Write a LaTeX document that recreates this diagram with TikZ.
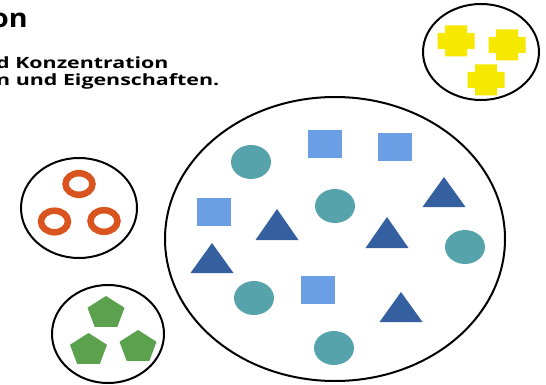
\documentclass[tikz,border=0pt]{standalone}
\usepackage{fontspec}
\usepackage{graphicx}
\setmainfont{Open Sans}
\definecolor{tealc}{RGB}{86,163,171}
\definecolor{lblue}{RGB}{107,159,229}
\definecolor{dblue}{RGB}{53,96,159}
\definecolor{orng}{RGB}{217,84,30}
\definecolor{grn}{RGB}{91,161,78}
\definecolor{yel}{RGB}{247,232,0}
\begin{document}
\begin{tikzpicture}[x=1pt,y=-1pt,
  outline/.style={draw=black,line width=2pt,fill=white},
  blob/.style={fill=tealc},
  sqbox/.style={fill=lblue},
  tri/.style={fill=dblue},
  ring/.style={draw=orng,line width=6.5pt},
  txt/.style={anchor=base west,inner sep=0pt,font=\bfseries\fontsize{15.5}{15.5}\selectfont},
  yplus/.pic={\fill[yel] (-18.5,-8) -- (-11,-8) -- (-11,-15.5) -- (11,-15.5) -- (11,-8) -- (18.5,-8) -- (18.5,8) -- (11,8) -- (11,15.5) -- (-11,15.5) -- (-11,8) -- (-18.5,8) -- cycle;},
  gpent/.pic={\fill[grn] (0,-17) -- (18.5,-5.25) -- (11.4,13.75) -- (-11.4,13.75) -- (-18.5,-5.25) -- cycle;}
]
\useasboundingbox (0,0) rectangle (546,385);
\clip (0,0) rectangle (546,385);
% texts
\node[anchor=base west,inner sep=0pt,font=\bfseries\fontsize{26}{26}\selectfont] (t1) at (-9,28) {\scalebox{1.1}[1]{on}};
\node[txt] (t2) at (-4,69) {\scalebox{1.38}[1]{d Konzentration}};
\node[txt] (t3) at (-4,86) {\scalebox{1.38}[1]{n und Eigenschaften.}};
% big ellipse
\draw[outline] (335,239) ellipse [x radius=170, y radius=142];
\foreach \x/\y in {251/162, 335/206, 465/247, 254/298, 334/348}
  \fill[blob] (\x,\y) ellipse [x radius=20, y radius=17];
\foreach \x/\y in {325/144, 395/147, 214/212, 318/290}
  \fill[sqbox] (\x-17,\y-14) rectangle (\x+17,\y+14);
\foreach \x/\ya/\yb in {444/177/207, 277/209/240, 387/217/248, 212/243/273, 401/292/322}
  \fill[tri] (\x,\ya) -- (\x+21.5,\yb) -- (\x-21.5,\yb) -- cycle;
% yellow
\draw[outline] (481,52) ellipse [x radius=58, y radius=48];
\pic at (456,41) {yplus};
\pic at (507,45) {yplus};
\pic at (486,80) {yplus};
% orange
\draw[outline] (79,208) ellipse [x radius=58, y radius=50];
\foreach \x/\y in {79/184, 54.5/221.5, 104/221}
  \draw[ring] (\x,\y) ellipse [x radius=13.5, y radius=10.8];
% green
\draw[outline] (108,334) ellipse [x radius=56, y radius=49];
\pic at (106,313) {gpent};
\pic at (88.5,350) {gpent};
\pic at (138,347) {gpent};
\end{tikzpicture}
\end{document}
